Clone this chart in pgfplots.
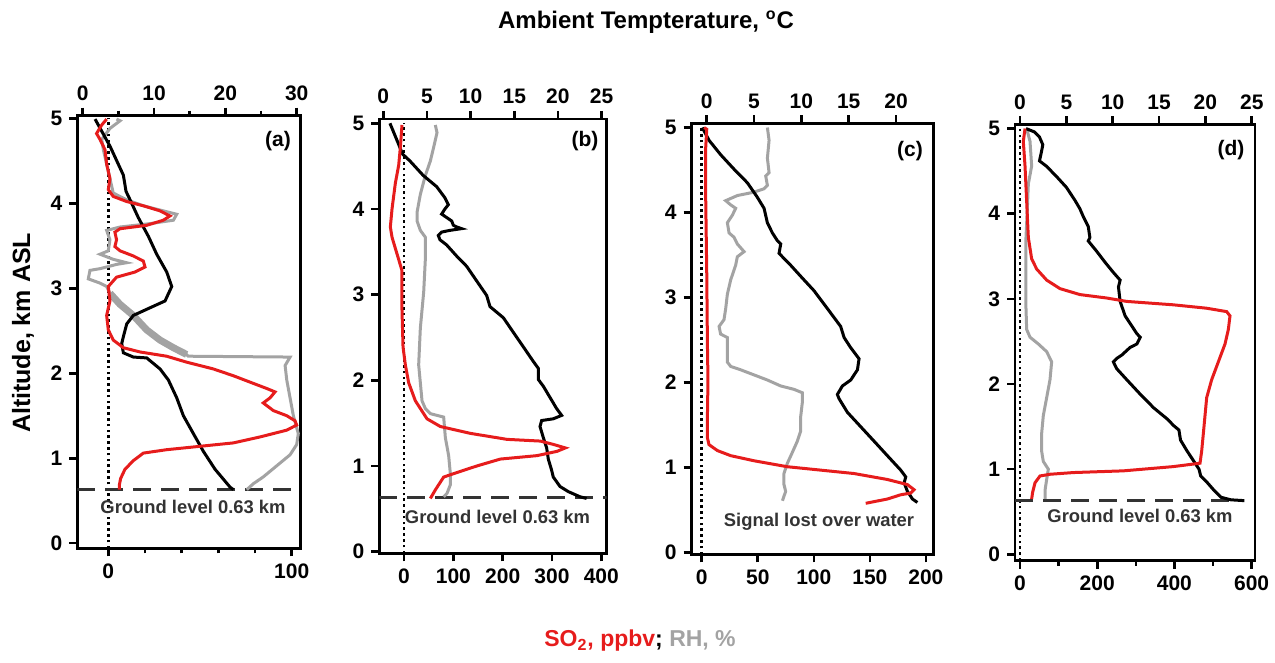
\documentclass[border=0pt]{standalone}
\usepackage{pgfplots}
\pgfplotsset{compat=1.18}
\usepackage{fontspec}
\setmainfont{Liberation Sans}
\definecolor{so2red}{RGB}{230,28,28}
\definecolor{rhgray}{RGB}{163,163,163}
\pgfplotsset{
  base/.style={scale only axis, anchor=south west, tick align=outside,
    major tick length=4pt, minor tick length=2.5pt,
    axis line style={line width=1.4pt},
    every tick/.append style={line width=1.3pt, black},
    tick label style={font=\bfseries\fontsize{10.5}{11}\selectfont},
    /pgf/number format/assume math mode=true},
  mainax/.style={base, xtick pos=lower, ytick pos=left, ytick={0,1,2,3,4,5}},
  topax/.style={base, axis x line*=top, axis y line=none, xtick pos=upper},
  overax/.style={scale only axis, anchor=south west, hide axis},
  so2/.style={so2red, line width=1.5pt},
  rh/.style={rhgray, line width=1.5pt},
  temp/.style={black, line width=1.5pt},
  zeroline/.style={black, line width=1.3pt, dash pattern=on 1.3pt off 1.6pt},
  groundline/.style={black!80, line width=1.4pt, dash pattern=on 9pt off 5pt},
}
\begin{document}
\begin{tikzpicture}
% ---------------- panel (a)
\begin{axis}[mainax, at={(38.65pt,57.35pt)}, width=111.7pt, height=216.3pt,
  xmin=-16.9, xmax=104.9, ymin=-0.06, ymax=5.03, xtick={0,100}, minor xtick={20,40,60,80}]
\addplot[zeroline] coordinates {(0,-0.06) (0,5)};
\addplot[groundline] coordinates {(-16.9,0.63) (104.9,0.63)};
\addplot[rh] coordinates {(4.5,4.99) (6.4,4.97) (0.9,4.88) (-3.6,4.75) (-2.7,4.63) (-0.9,4.46) (0.9,4.29) (2.7,4.12) (10,4.04) (19.1,3.97) (30,3.91) (37.3,3.87) (35.5,3.80) (22.7,3.76) (6.4,3.72) (-0.9,3.68) (0.9,3.57) (0,3.44) (-4.5,3.40) (2.7,3.34) (10,3.30) (4.5,3.28) (-4.5,3.23) (-10,3.21) (-10.9,3.11) (-4.5,3.06) (-0.9,3.02) (0.9,2.94) (6.4,2.81) (13.6,2.68) (20.9,2.51) (28.2,2.39) (35.5,2.30) (42.7,2.22) (43.6,2.20) (99.1,2.19) (96.4,2.09) (97.3,1.92) (99.1,1.71) (100.9,1.50) (103.6,1.29) (102.7,1.16) (99.1,1.04) (91.8,0.91) (84.5,0.78) (79.1,0.70) (75.5,0.63)};
\addplot[rhgray, line width=3.5pt] coordinates {(0.9,2.94) (6.4,2.81) (13.6,2.68) (20.9,2.51) (28.2,2.39) (35.5,2.30) (42.7,2.22)};
\end{axis}
\begin{axis}[topax, at={(38.65pt,57.35pt)}, width=111.7pt, height=216.3pt,
  xmin=-0.76, xmax=30.56, ymin=-0.06, ymax=5.03, xtick={0,10,20,30}, minor xtick={5,15,25}]
\addplot[temp] coordinates {(1.73,4.99) (3.83,4.67) (5.70,4.33) (6.07,4.14) (6.64,4.04) (7.80,3.83) (9.21,3.61) (10.37,3.40) (11.78,3.19) (12.48,3.02) (11.54,2.85) (9.44,2.77) (7.10,2.68) (6.17,2.58) (5.70,2.43) (5.47,2.35) (5.70,2.24) (7.10,2.19) (8.97,2.18) (10.84,2.05) (12.01,1.92) (13.18,1.71) (14.11,1.50) (15.51,1.29) (16.92,1.08) (18.55,0.87) (20.65,0.66) (21.12,0.63)};
\end{axis}
\begin{axis}[overax, at={(38.65pt,57.35pt)}, width=111.7pt, height=216.3pt,
  xmin=-16.9, xmax=104.9, ymin=-0.06, ymax=5.03]
\addplot[so2] coordinates {(-0.9,4.99) (-3.6,4.92) (-6.4,4.82) (-4.5,4.75) (-1.8,4.63) (-0.9,4.46) (0.9,4.29) (0,4.16) (2.7,4.08) (10,4.02) (19.1,3.97) (28.2,3.91) (33.6,3.85) (30,3.80) (20.9,3.74) (6.4,3.70) (3.6,3.66) (4.5,3.57) (3.6,3.49) (6.4,3.44) (13.6,3.38) (19.1,3.32) (20,3.25) (14.5,3.19) (4.5,3.13) (0,3.02) (0.9,2.85) (-0.9,2.68) (0,2.51) (2.7,2.39) (8.2,2.30) (17.3,2.25) (31.8,2.20) (42.7,2.13) (57.3,2.05) (68.2,1.97) (79.1,1.88) (86.4,1.82) (90.9,1.78) (88.2,1.71) (84.5,1.65) (90,1.56) (97.3,1.50) (101.8,1.44) (102.7,1.39) (97.3,1.33) (82.7,1.25) (68.2,1.18) (50,1.14) (31.8,1.10) (19.1,1.06) (13.6,0.97) (9.1,0.87) (6.7,0.76) (6,0.68) (6,0.63)};
\end{axis}
% ---------------- panel (b)
\begin{axis}[mainax, at={(189.65pt,54.85pt)}, width=113.7pt, height=217.15pt,
  xmin=-50.1, xmax=410.9, ymin=-0.02, ymax=5.05, xtick={0,100,200,300,400}]
\addplot[zeroline] coordinates {(0,-0.02) (0,5)};
\addplot[groundline] coordinates {(-50.1,0.63) (410.9,0.63)};
\addplot[rh] coordinates {(63.5,4.98) (66.9,4.89) (60.1,4.72) (53.4,4.56) (43.2,4.39) (33.1,4.17) (26.4,3.96) (26.4,3.86) (33.1,3.75) (43.2,3.67) (43.2,3.41) (39.9,3.03) (33.1,2.61) (29.7,2.18) (33.1,1.97) (36.5,1.76) (43.2,1.67) (53.4,1.61) (80.4,1.57) (83.8,1.33) (90.5,1.12) (93.9,0.91) (93.9,0.78) (87.2,0.68) (80.4,0.64)};
\end{axis}
\begin{axis}[topax, at={(189.65pt,54.85pt)}, width=113.7pt, height=217.15pt,
  xmin=-0.46, xmax=25.59, ymin=-0.02, ymax=5.05, xtick={0,5,10,15,20,25}]
\addplot[temp] coordinates {(0.76,5.0) (1.53,4.81) (2.21,4.64) (3.05,4.56) (4.58,4.39) (6.11,4.26) (7.06,4.13) (7.45,4.05) (7.06,4.00) (6.68,3.94) (7.25,3.90) (7.83,3.86) (8.02,3.81) (8.40,3.79) (8.97,3.77) (7.64,3.75) (6.68,3.73) (6.30,3.69) (6.49,3.64) (7.25,3.58) (8.40,3.45) (9.55,3.33) (10.69,3.16) (11.84,2.99) (12.22,2.86) (13.75,2.73) (14.89,2.56) (16.04,2.39) (17.18,2.22) (17.75,2.14) (17.75,2.01) (18.33,1.93) (19.09,1.80) (19.85,1.67) (20.43,1.59) (19.47,1.55) (18.14,1.53) (17.95,1.46) (18.33,1.33) (18.71,1.21) (18.90,1.08) (19.28,0.95) (19.47,0.87) (20.24,0.76) (21.19,0.70) (22.53,0.64) (23.29,0.62)};
\end{axis}
\begin{axis}[overax, at={(189.65pt,54.85pt)}, width=113.7pt, height=217.15pt,
  xmin=-50.1, xmax=410.9, ymin=-0.02, ymax=5.05]
\addplot[so2] coordinates {(-4.1,4.98) (-7.4,4.72) (-10.8,4.51) (-17.6,4.30) (-24.3,4.0) (-27.7,3.79) (-24.3,3.67) (-17.6,3.54) (-10.8,3.41) (-4.1,3.28) (-4.1,2.82) (-2,2.39) (2.7,2.18) (9.5,1.97) (23,1.76) (46.6,1.55) (73.6,1.46) (134.5,1.38) (208.8,1.31) (276.4,1.29) (303.4,1.25) (327,1.21) (310.1,1.17) (269.6,1.12) (195.3,1.08) (148,1.0) (100.7,0.91) (80.4,0.87) (73.6,0.81) (63.5,0.72) (53.4,0.62)};
\end{axis}
% ---------------- panel (c)
\begin{axis}[mainax, at={(345.85pt,54.35pt)}, width=120.8pt, height=215.5pt,
  xmin=-8.92, xmax=206.6, ymin=-0.02, ymax=5.05, xtick={0,50,100,150,200}]
\addplot[zeroline] coordinates {(0,-0.02) (0,5)};
\addplot[rh] coordinates {(58.6,5.0) (60.1,4.85) (58.6,4.64) (60.1,4.47) (57.1,4.43) (58.6,4.32) (55.6,4.28) (46.7,4.24) (31.8,4.20) (21.4,4.14) (25.9,4.09) (30.3,4.05) (27.4,3.97) (22.9,3.88) (24.4,3.76) (28.8,3.71) (31.8,3.63) (37.8,3.54) (31.8,3.48) (30.3,3.38) (25.9,3.21) (22.9,3.04) (21.4,2.87) (19.9,2.74) (15.5,2.66) (16.9,2.57) (22.9,2.53) (22.9,2.28) (22.9,2.24) (25.9,2.19) (34.8,2.15) (46.7,2.09) (58.6,2.03) (70.5,1.96) (82.4,1.92) (89.8,1.88) (89.8,1.77) (88.3,1.60) (88.3,1.43) (85.3,1.31) (80.9,1.18) (76.4,1.05) (73.4,0.93) (73.4,0.80) (74.9,0.72) (72.0,0.61)};
\end{axis}
\begin{axis}[topax, at={(345.85pt,54.35pt)}, width=120.8pt, height=215.5pt,
  xmin=-1.58, xmax=23.93, ymin=-0.02, ymax=5.05, xtick={0,5,10,15,20}]
\addplot[temp] coordinates {(-0.46,5.0) (0.25,4.85) (1.48,4.68) (2.89,4.51) (4.30,4.35) (5.35,4.18) (6.06,4.05) (6.41,3.88) (6.94,3.76) (7.46,3.67) (7.82,3.63) (7.64,3.52) (8.17,3.46) (8.87,3.38) (9.93,3.25) (11.34,3.08) (12.75,2.87) (14.15,2.66) (14.51,2.53) (15.21,2.41) (16.09,2.28) (15.92,2.15) (15.21,2.03) (14.33,1.96) (13.80,1.86) (13.98,1.81) (14.86,1.65) (16.27,1.48) (17.68,1.31) (19.08,1.14) (20.49,0.97) (21.02,0.89) (20.85,0.82) (21.20,0.72) (21.73,0.63) (22.25,0.59)};
\end{axis}
\begin{axis}[overax, at={(345.85pt,54.35pt)}, width=120.8pt, height=215.5pt,
  xmin=-8.92, xmax=206.6, ymin=-0.02, ymax=5.05]
\addplot[so2] coordinates {(2.1,5.0) (4.5,4.98) (3.6,4.77) (3.6,4.14) (4.5,3.29) (5.1,2.45) (5.6,2.03) (5.1,1.60) (5.1,1.35) (6.5,1.27) (14,1.20) (25.9,1.14) (46.7,1.08) (76.4,1.01) (106.2,0.97) (135.9,0.93) (165.6,0.86) (183.5,0.80) (189.4,0.74) (186.4,0.70) (177.5,0.68) (165.6,0.63) (146.3,0.58)};
\end{axis}
% ---------------- panel (d)
\begin{axis}[mainax, at={(507.5pt,51.15pt)}, width=120pt, height=218.2pt,
  xmin=-12.95, xmax=608.8, ymin=-0.075, ymax=5.05, xtick={0,200,400,600}, minor xtick={100,300,500}]
\addplot[zeroline] coordinates {(0,-0.075) (0,5)};
\addplot[groundline] coordinates {(-12.95,0.63) (575,0.63)};
\addplot[rh] coordinates {(17.3,5.0) (25.9,4.85) (30.2,4.56) (21.6,4.35) (19,4.06) (15.5,3.72) (15.5,3.31) (15.5,2.89) (17.3,2.64) (25.9,2.55) (47.5,2.47) (69.1,2.38) (82,2.26) (77.7,2.05) (69.1,1.84) (60.4,1.63) (56.1,1.42) (56.1,1.21) (60.4,1.09) (73.4,1.0) (69.1,0.88) (64.8,0.75) (64.8,0.65)};
\end{axis}
\begin{axis}[topax, at={(507.5pt,51.15pt)}, width=120pt, height=218.2pt,
  xmin=-0.54, xmax=25.35, ymin=-0.075, ymax=5.05, xtick={0,5,10,15,20,25}]
\addplot[temp] coordinates {(0.65,5.0) (1.56,4.96) (2.10,4.90) (2.46,4.81) (2.28,4.71) (2.10,4.62) (2.83,4.56) (3.91,4.44) (5.0,4.31) (5.91,4.16) (6.45,4.06) (6.81,3.97) (7.36,3.85) (7.54,3.72) (7.36,3.68) (8.26,3.56) (9.17,3.43) (10.07,3.31) (10.80,3.22) (10.62,3.14) (10.80,2.97) (11.34,2.80) (12.07,2.68) (12.61,2.59) (12.97,2.55) (12.61,2.47) (11.88,2.43) (10.98,2.34) (10.43,2.30) (10.07,2.26) (10.43,2.18) (11.52,2.05) (12.97,1.88) (14.42,1.72) (15.87,1.59) (16.59,1.51) (17.14,1.46) (17.32,1.34) (18.04,1.21) (18.77,1.09) (19.31,1.00) (19.49,0.92) (20.22,0.84) (20.94,0.75) (21.67,0.67) (22.75,0.64) (24.2,0.63)};
\end{axis}
\begin{axis}[overax, at={(507.5pt,51.15pt)}, width=120pt, height=218.2pt,
  xmin=-12.95, xmax=608.8, ymin=-0.075, ymax=5.05]
\addplot[so2] coordinates {(13,5.0) (8.6,4.85) (13,4.56) (17.3,4.14) (21.6,3.72) (30.2,3.47) (43.2,3.35) (69.1,3.22) (103.6,3.12) (155.4,3.05) (224.5,3.01) (276.3,2.97) (397.2,2.93) (483.6,2.89) (535.4,2.85) (544,2.80) (539.7,2.64) (531.1,2.47) (513.8,2.26) (496.5,2.05) (483.6,1.84) (479.3,1.63) (475,1.42) (470.6,1.21) (466.3,1.07) (397.2,1.03) (267.7,0.98) (138.2,0.96) (77.7,0.94) (51.8,0.92) (38.9,0.84) (32.8,0.73) (30.2,0.65)};
\end{axis}
% ---------------- texts
\begin{scope}[every node/.style={font=\bfseries\fontsize{10.5}{12}\selectfont}]
\node at (139pt,261pt) {(a)};
\node at (292.5pt,260.85pt) {(b)};
\node at (455pt,256.15pt) {(c)};
\node at (615.5pt,256.7pt) {(d)};
\end{scope}
\begin{scope}[every node/.style={font=\bfseries\fontsize{9.2}{10}\selectfont, text=black!80}]
\node at (96.5pt,78pt) {Ground level 0.63 km};
\node at (248.75pt,72.8pt) {Ground level 0.63 km};
\node at (409.5pt,70.65pt) {Signal lost over water};
\node at (570pt,73.5pt) {Ground level 0.63 km};
\end{scope}
\node[font=\bfseries\fontsize{12}{14}\selectfont] at (323pt,320.5pt) {Ambient Tempterature, \textsuperscript{o}C};
\node[font=\bfseries\fontsize{12.5}{14}\selectfont, rotate=90] at (11.5pt,165pt) {Altitude, km ASL};
\node[font=\bfseries\fontsize{11.5}{13}\selectfont] at (320pt,11pt) {{\color{so2red}SO\textsubscript{2}, ppbv}; {\color{rhgray}RH, \%}};
\pgfresetboundingbox
\path[use as bounding box] (0,0) rectangle (637.5pt,331.5pt);
\end{tikzpicture}
\end{document}
